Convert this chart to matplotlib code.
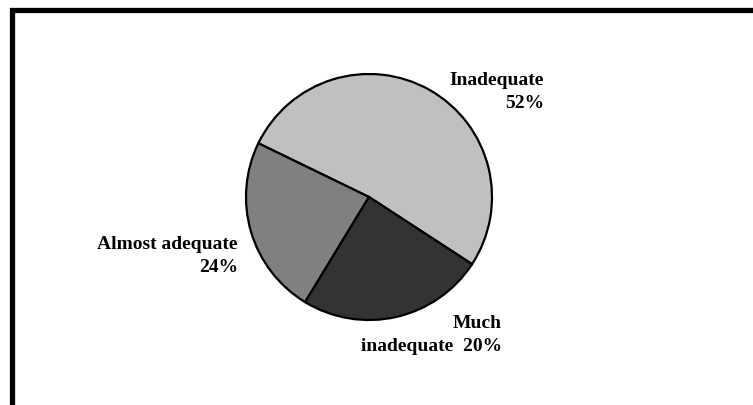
import matplotlib
matplotlib.use("Agg")
import matplotlib.pyplot as plt
from matplotlib.patches import Rectangle

# slice sizes as drawn (counterclockwise from the lower right)
categories = ["Inadequate", "Almost adequate", "Much inadequate"]
shares = [52, 23.5, 24.5]
label_texts = ["Inadequate\n52%", "Almost adequate\n24%", "Much\ninadequate  20%"]
colors = ["#c0c0c0", "#808080", "#333333"]

# label anchors in pixels (right edge, vertical centre), y measured from top
label_pos = [(544, 92), (238, 256), (502, 335)]

W, H = 753, 406
fig = plt.figure(figsize=(W / 100, H / 100), dpi=100)
ax = fig.add_axes([0, 0, 1, 1])

ax.pie(shares, colors=colors, startangle=-33.1, counterclock=True,
       center=(369, H - 198), radius=123, frame=False,
       wedgeprops=dict(edgecolor="black", linewidth=1.6))
ax.set_xlim(0, W)
ax.set_ylim(0, H)
ax.set_aspect("equal")
ax.axis("off")

for txt, (x, y) in zip(label_texts, label_pos):
    ax.text(x, H - y, txt, ha="right", va="center", multialignment="right",
            fontsize=14, fontweight="bold", family="Liberation Serif",
            linespacing=1.5)

# frame cut off at the right and bottom edges
fig.add_artist(Rectangle((11.5 / W, -0.2), 1.2, (H - 10.5) / H + 0.2,
                         transform=fig.transFigure, fill=False,
                         edgecolor="black", linewidth=3.8))

fig.savefig("out.png", dpi=100)
